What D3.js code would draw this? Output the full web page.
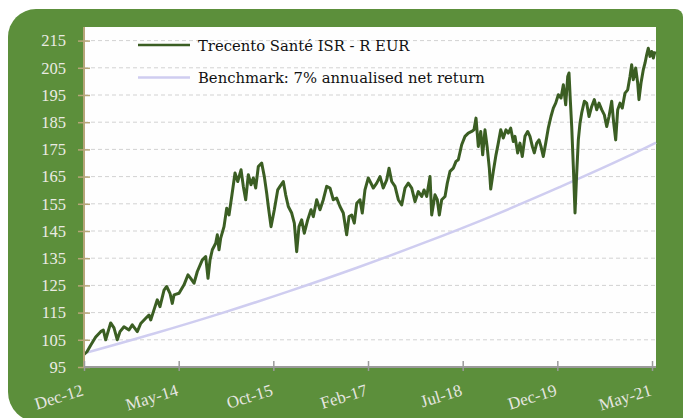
<!DOCTYPE html>
<html>
<head>
<meta charset="utf-8">
<script src="https://cdn.jsdelivr.net/npm/d3@7"></script>
<style>
  html, body { margin: 0; padding: 0; background: #ffffff; }
  svg { display: block; }
</style>
</head>
<body>
<svg id="chart" width="685" height="418"></svg>
<script>
// ---- Data ----
const seriesNames = ["Trecento Santé ISR - R EUR", "Benchmark: 7% annualised net return"];

// Fund: decimal years and index values
const fundYears = [
  2012.960, 2013.004, 2013.059, 2013.133, 2013.207, 2013.246, 2013.281, 2013.355, 2013.404, 2013.453,
  2013.493, 2013.552, 2013.626, 2013.675, 2013.749, 2013.800, 2013.874, 2013.922, 2013.948, 2013.996,
  2014.045, 2014.085, 2014.145, 2014.184, 2014.233, 2014.267, 2014.293, 2014.367, 2014.441, 2014.500,
  2014.540, 2014.589, 2014.638, 2014.712, 2014.762, 2014.796, 2014.826, 2014.860, 2014.910, 2014.934,
  2014.959, 2014.984, 2015.033, 2015.073, 2015.107, 2015.147, 2015.196, 2015.236, 2015.285, 2015.319,
  2015.354, 2015.393, 2015.433, 2015.467, 2015.502, 2015.541, 2015.591, 2015.630, 2015.665, 2015.689,
  2015.729, 2015.778, 2015.828, 2015.862, 2015.911, 2015.946, 2015.985, 2016.035, 2016.074, 2016.109,
  2016.143, 2016.183, 2016.222, 2016.272, 2016.321, 2016.355, 2016.405, 2016.454, 2016.503, 2016.553,
  2016.602, 2016.651, 2016.701, 2016.750, 2016.799, 2016.849, 2016.884, 2016.924, 2016.962, 2016.998,
  2017.046, 2017.080, 2017.120, 2017.169, 2017.220, 2017.243, 2017.294, 2017.343, 2017.391, 2017.442,
  2017.476, 2017.516, 2017.565, 2017.614, 2017.664, 2017.713, 2017.762, 2017.812, 2017.861, 2017.910,
  2017.960, 2017.994, 2018.034, 2018.083, 2018.108, 2018.157, 2018.191, 2018.221, 2018.256, 2018.305,
  2018.339, 2018.379, 2018.428, 2018.468, 2018.502, 2018.552, 2018.601, 2018.650, 2018.700, 2018.734,
  2018.764, 2018.798, 2018.834, 2018.863, 2018.897, 2018.931, 2018.961, 2018.982, 2019.020, 2019.060,
  2019.094, 2019.130, 2019.168, 2019.208, 2019.242, 2019.278, 2019.316, 2019.341, 2019.381, 2019.415,
  2019.449, 2019.489, 2019.529, 2019.563, 2019.598, 2019.627, 2019.663, 2019.697, 2019.726, 2019.760,
  2019.796, 2019.834, 2019.874, 2019.909, 2019.944, 2019.983, 2020.023, 2020.057, 2020.092, 2020.122,
  2020.141, 2020.160, 2020.181, 2020.205, 2020.230, 2020.255, 2020.279, 2020.304, 2020.329, 2020.368,
  2020.403, 2020.437, 2020.477, 2020.516, 2020.551, 2020.585, 2020.625, 2020.664, 2020.699, 2020.733,
  2020.773, 2020.803, 2020.832, 2020.862, 2020.896, 2020.930, 2020.970, 2021.010, 2021.044, 2021.069,
  2021.093, 2021.128, 2021.158, 2021.177, 2021.207, 2021.241, 2021.266, 2021.291, 2021.315, 2021.340,
  2021.365, 2021.389, 2021.414
];
const fundValues = [
  99.6, 100.6, 103.0, 106.0, 108.0, 108.6, 105.0, 111.2, 109.4, 105.0,
  108.0, 109.8, 108.6, 110.5, 108.0, 111.0, 112.9, 114.1, 112.3, 116.0,
  119.7, 117.2, 123.3, 124.6, 122.1, 118.4, 121.5, 122.1, 125.2, 128.9,
  127.6, 125.8, 130.1, 134.4, 135.6, 127.6, 134.4, 138.1, 140.5, 143.6,
  138.1, 142.4, 146.6, 153.4, 150.9, 157.7, 166.3, 163.2, 167.5, 161.4,
  156.5, 165.7, 162.0, 164.5, 160.8, 168.7, 170.0, 165.0, 158.9, 154.0,
  146.6, 152.8, 160.1, 161.4, 163.2, 158.3, 154.0, 151.6, 147.9, 137.4,
  146.6, 149.1, 144.2, 149.1, 152.8, 150.3, 156.5, 152.8, 156.5, 161.4,
  160.8, 156.5, 157.1, 154.0, 151.6, 143.6, 150.3, 150.9, 147.9, 155.2,
  156.5, 151.6, 160.1, 164.5, 162.0, 160.8, 162.6, 165.0, 160.8, 163.8,
  168.1, 163.2, 161.4, 156.5, 154.6, 160.8, 162.6, 160.8, 155.8, 159.5,
  157.7, 160.1, 157.7, 165.0, 150.9, 158.3, 156.5, 150.9, 156.5, 157.7,
  162.6, 166.9, 168.1, 170.6, 171.2, 176.7, 179.8, 181.0, 181.6, 182.2,
  186.5, 176.1, 181.6, 173.0, 182.2, 175.5, 168.1, 160.4, 166.9, 173.0,
  177.3, 182.2, 179.2, 182.2, 181.0, 182.8, 177.9, 179.8, 173.7, 177.3,
  172.4, 179.8, 181.6, 179.8, 176.1, 173.7, 177.3, 178.5, 176.1, 172.4,
  177.3, 182.8, 187.1, 190.2, 192.0, 195.1, 193.9, 198.8, 191.4, 201.8,
  203.1, 193.3, 183.4, 168.7, 151.6, 166.3, 178.5, 184.7, 188.4, 192.7,
  192.0, 187.1, 190.8, 193.3, 189.6, 192.0, 189.6, 187.7, 183.4, 187.1,
  192.7, 184.7, 178.5, 189.6, 192.0, 190.2, 195.7, 196.9, 201.8, 206.1,
  200.6, 204.9, 199.4, 193.3, 199.4, 204.3, 206.7, 209.8, 212.2, 209.2,
  211.0, 208.6, 211.0
];

// Benchmark: decimal years and index values
const benchYears  = [2012.96, 2014.0, 2015.0, 2016.0, 2017.0, 2018.0, 2019.0, 2020.0, 2021.0, 2021.43];
const benchValues = [100.0, 107.3, 114.8, 122.9, 131.5, 140.7, 150.5, 161.1, 172.3, 177.5];

// Axes
const yTicks = [95, 105, 115, 125, 135, 145, 155, 165, 175, 185, 195, 205, 215];
const xTickLabels = ["Dec-12", "May-14", "Oct-15", "Feb-17", "Jul-18", "Dec-19", "May-21"];
const xTickYears  = [2012.960, 2014.362, 2015.763, 2017.165, 2018.567, 2019.968, 2021.370];

// ---- Drawing ----
const svg = d3.select("#chart");
const plot = { left: 84, right: 656, top: 27, bottom: 367 };

const FONT = "'Liberation Serif', 'DejaVu Serif', serif";
const LEGEND_FONT = "'DejaVu Serif', 'Liberation Serif', serif";
const GREEN_BG = "#5c8f3b";

// Green background panel with rounded left corners
svg.append("path")
  .attr("d", "M8,37 A28,28 0 0 1 36,9 L675,9 A8,8 0 0 1 683,17 L683,422 L38,422 A30,30 0 0 1 8,392 Z")
  .attr("fill", GREEN_BG);

// White plot area
svg.append("rect")
  .attr("x", plot.left).attr("y", plot.top)
  .attr("width", plot.right - plot.left).attr("height", plot.bottom - plot.top)
  .attr("fill", "#fefefe");

const x = d3.scaleLinear().domain([2012.96, 2021.429]).range([plot.left, plot.right]);
const y = d3.scaleLinear().domain([95, 220]).range([plot.bottom, plot.top]);

// Gridlines
svg.append("g").selectAll("line")
  .data(yTicks.filter(t => t > 95))
  .join("line")
  .attr("x1", plot.left).attr("x2", plot.right)
  .attr("y1", d => y(d)).attr("y2", d => y(d))
  .attr("stroke", "#d2d2d2").attr("stroke-width", 1)
  .attr("stroke-dasharray", "4,3");

// Benchmark line
const benchData = benchYears.map((t, i) => [t, benchValues[i]]);
svg.append("path")
  .datum(benchData)
  .attr("fill", "none")
  .attr("stroke", "#cfcdf0")
  .attr("stroke-width", 2.5)
  .attr("d", d3.line().x(d => x(d[0])).y(d => y(d[1])).curve(d3.curveMonotoneX));

// Fund line
const fundData = fundYears.map((t, i) => [t, fundValues[i]]);
svg.append("path")
  .datum(fundData)
  .attr("fill", "none")
  .attr("stroke", "#3b5e23")
  .attr("stroke-width", 3)
  .attr("stroke-linejoin", "round")
  .attr("d", d3.line().x(d => x(d[0])).y(d => y(d[1])));

// Y axis
const yAxis = d3.axisLeft(y).tickValues(yTicks).tickSize(0).tickPadding(0).tickFormat(d3.format("d"));
const gy = svg.append("g").attr("transform", `translate(${plot.left},0)`).call(yAxis);
gy.select(".domain").remove();
gy.selectAll(".tick text")
  .attr("x", -18)
  .attr("font-family", FONT).attr("font-size", 16.5)
  .attr("fill", "#ebebe3");
gy.selectAll(".tick").append("line")
  .attr("x1", -6).attr("x2", 6)
  .attr("stroke", "#b6a679").attr("stroke-width", 1.5);
svg.append("line")
  .attr("x1", plot.left).attr("x2", plot.left)
  .attr("y1", plot.top).attr("y2", plot.bottom)
  .attr("stroke", "#b6a679").attr("stroke-width", 2);

// X axis
const xAxis = d3.axisBottom(x).tickValues(xTickYears).tickSize(0)
  .tickFormat((d, i) => xTickLabels[i]);
const gx = svg.append("g").attr("transform", `translate(0,${plot.bottom})`).call(xAxis);
gx.select(".domain").remove();
svg.append("line")
  .attr("x1", plot.left).attr("x2", plot.right)
  .attr("y1", plot.bottom).attr("y2", plot.bottom)
  .attr("stroke", "#9b9b9b").attr("stroke-width", 2);
gx.selectAll(".tick").append("line")
  .attr("y1", -6).attr("y2", 4)
  .attr("stroke", "#9b9b9b").attr("stroke-width", 1.5);
gx.selectAll(".tick text")
  .attr("y", 0).attr("dy", 0)
  .attr("text-anchor", "end")
  .attr("transform", "translate(0,28) rotate(-17)")
  .attr("font-family", FONT).attr("font-size", 17)
  .attr("fill", "#e6e6e0");

// Legend
const legend = svg.append("g");
const legendItems = [
  { name: seriesNames[0], color: "#3b5e23", y: 45 },
  { name: seriesNames[1], color: "#cfcdf0", y: 77.5 }
];
legendItems.forEach(it => {
  legend.append("line")
    .attr("x1", 138).attr("x2", 190)
    .attr("y1", it.y).attr("y2", it.y)
    .attr("stroke", it.color).attr("stroke-width", 2.6);
  legend.append("text")
    .attr("x", 198).attr("y", it.y + 5.5)
    .attr("font-family", LEGEND_FONT).attr("font-size", 14.8)
    .attr("fill", "#111")
    .text(it.name);
});
</script>
</body>
</html>
